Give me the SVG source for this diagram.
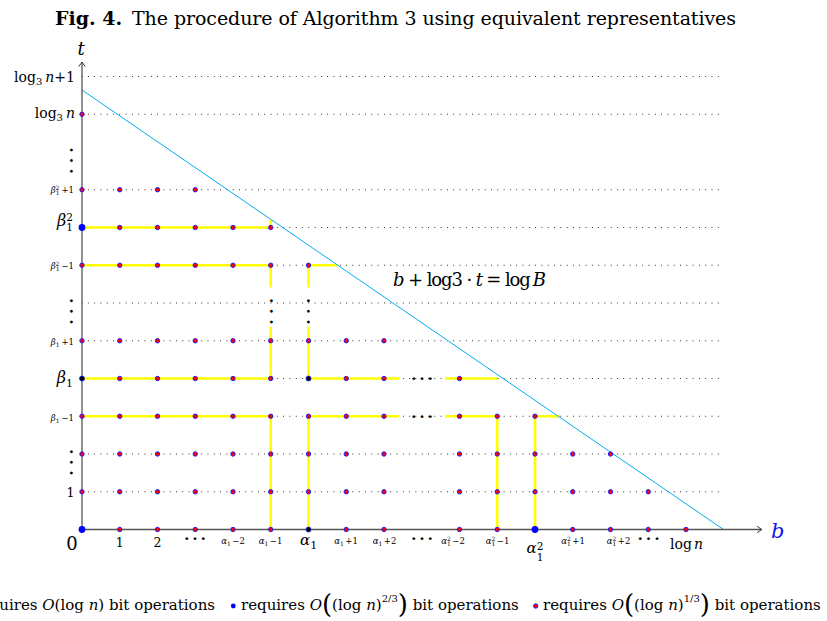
<svg xmlns="http://www.w3.org/2000/svg" xmlns:xlink="http://www.w3.org/1999/xlink" width="827" height="621" viewBox="0 0 827 621">
<style>
text{font-family:"DejaVu Serif","Liberation Serif",serif;fill:#000}
.i{font-style:italic}
.grid{stroke:#000;stroke-width:1;stroke-dasharray:0 6.3;stroke-linecap:round;fill:none}
.yel{stroke:#ffff00;stroke-width:2.6;fill:none}
.axis{stroke:#555;stroke-width:1.3;fill:none}
.cyan{stroke:#00aeef;stroke-width:1;fill:none}
.sd{fill:#ff0000;stroke:#2020ff;stroke-width:1}
.bd{fill:#0000ff}
.kd{fill:#000;stroke:#2020ff;stroke-width:0.8}
.el{font-family:"Liberation Serif",serif;font-size:24px;letter-spacing:2.3px}
.vd{font-family:"Liberation Serif",serif;font-size:24px;letter-spacing:4.6px}
.s{font-size:8.5px}
.lg{font-size:15px}
</style>
<defs>
<circle id="sd" r="2.2" class="sd"/>
<circle id="bd" r="3.4" class="bd"/>
<circle id="kd" r="2.5" class="kd"/>
<marker id="arr" markerWidth="10" markerHeight="10" refX="0" refY="0" viewBox="-6 -5 8 10" orient="auto" markerUnits="userSpaceOnUse">
<path d="M-4.5,-3.2 Q-1.2,-0.8 0,0 Q-1.2,0.8 -4.5,3.2" stroke="#333" stroke-width="1" fill="none"/>
</marker>
</defs>

<text x="55" y="25" font-size="19" font-weight="bold">Fig. 4.</text>
<text x="132" y="25" font-size="19" textLength="604" lengthAdjust="spacing">The procedure of Algorithm 3 using equivalent representatives</text>

<g id="connectors">
<g id="gridlines">
<path class="grid" d="M82,76.5H721M82,114.25H721M82,189.75H721M82,227.5H721M82,265.25H721M82,303H721M82,340.75H721M82,378.5H721M82,416.25H721M82,454H721M82,491.75H721"/>
</g>
<g id="yellow">
<path class="yel" d="M82,227.5H270.75M82,265.25H270.75M308.5,265.25H338M82,378.5H270.75M308.5,378.5H399.3M445,378.5H497M82,416.25H270.75M308.5,416.25H399.3M445,416.25H497.25M535,416.25H559.5"/>
<path class="yel" d="M270.75,219.5V227.5M270.75,265.25V287.5M270.75,326.5V378.5M270.75,416.25V529.5M308.5,265.25V287.5M308.5,326.5V378.5M308.5,416.25V529.5M497.25,416.25V529.5M535,416.25V529.5"/>
</g>
<path id="boundary" class="cyan" d="M82,90L723.5,529.5"/>
<path id="t-axis" class="axis" d="M82,529.5V62" marker-end="url(#arr)"/>
<path id="b-axis" class="axis" d="M82,529.5H761.7" marker-end="url(#arr)"/>
</g>

<g id="nodes">
<g id="n0-0"><use xlink:href="#bd" x="82" y="529.5"/></g>
<g id="n1-0"><use xlink:href="#sd" x="119.75" y="529.5"/></g>
<g id="n2-0"><use xlink:href="#sd" x="157.5" y="529.5"/></g>
<g id="n3-0"><use xlink:href="#sd" x="195.25" y="529.5"/></g>
<g id="n4-0"><use xlink:href="#sd" x="233" y="529.5"/></g>
<g id="n5-0"><use xlink:href="#sd" x="270.75" y="529.5"/></g>
<g id="n6-0"><use xlink:href="#kd" x="308.5" y="529.5"/></g>
<g id="n7-0"><use xlink:href="#sd" x="346.25" y="529.5"/></g>
<g id="n8-0"><use xlink:href="#sd" x="384" y="529.5"/></g>
<g id="n10-0"><use xlink:href="#sd" x="459.5" y="529.5"/></g>
<g id="n11-0"><use xlink:href="#sd" x="497.25" y="529.5"/></g>
<g id="n12-0"><use xlink:href="#bd" x="535" y="529.5"/></g>
<g id="n13-0"><use xlink:href="#sd" x="572.75" y="529.5"/></g>
<g id="n14-0"><use xlink:href="#sd" x="610.5" y="529.5"/></g>
<g id="n15-0"><use xlink:href="#sd" x="648.25" y="529.5"/></g>
<g id="n16-0"><use xlink:href="#sd" x="686" y="529.5"/></g>

<g id="n0-1"><use xlink:href="#sd" x="82" y="491.75"/></g>
<g id="n1-1"><use xlink:href="#sd" x="119.75" y="491.75"/></g>
<g id="n2-1"><use xlink:href="#sd" x="157.5" y="491.75"/></g>
<g id="n3-1"><use xlink:href="#sd" x="195.25" y="491.75"/></g>
<g id="n4-1"><use xlink:href="#sd" x="233" y="491.75"/></g>
<g id="n5-1"><use xlink:href="#sd" x="270.75" y="491.75"/></g>
<g id="n6-1"><use xlink:href="#sd" x="308.5" y="491.75"/></g>
<g id="n7-1"><use xlink:href="#sd" x="346.25" y="491.75"/></g>
<g id="n8-1"><use xlink:href="#sd" x="384" y="491.75"/></g>
<g id="n10-1"><use xlink:href="#sd" x="459.5" y="491.75"/></g>
<g id="n11-1"><use xlink:href="#sd" x="497.25" y="491.75"/></g>
<g id="n12-1"><use xlink:href="#sd" x="535" y="491.75"/></g>
<g id="n13-1"><use xlink:href="#sd" x="572.75" y="491.75"/></g>
<g id="n14-1"><use xlink:href="#sd" x="610.5" y="491.75"/></g>
<g id="n15-1"><use xlink:href="#sd" x="648.25" y="491.75"/></g>

<g id="n0-2"><use xlink:href="#sd" x="82" y="454"/></g>
<g id="n1-2"><use xlink:href="#sd" x="119.75" y="454"/></g>
<g id="n2-2"><use xlink:href="#sd" x="157.5" y="454"/></g>
<g id="n3-2"><use xlink:href="#sd" x="195.25" y="454"/></g>
<g id="n4-2"><use xlink:href="#sd" x="233" y="454"/></g>
<g id="n5-2"><use xlink:href="#sd" x="270.75" y="454"/></g>
<g id="n6-2"><use xlink:href="#sd" x="308.5" y="454"/></g>
<g id="n7-2"><use xlink:href="#sd" x="346.25" y="454"/></g>
<g id="n8-2"><use xlink:href="#sd" x="384" y="454"/></g>
<g id="n10-2"><use xlink:href="#sd" x="459.5" y="454"/></g>
<g id="n11-2"><use xlink:href="#sd" x="497.25" y="454"/></g>
<g id="n12-2"><use xlink:href="#sd" x="535" y="454"/></g>
<g id="n13-2"><use xlink:href="#sd" x="572.75" y="454"/></g>
<g id="n14-2"><use xlink:href="#sd" x="610.5" y="454"/></g>

<g id="n0-3"><use xlink:href="#sd" x="82" y="416.25"/></g>
<g id="n1-3"><use xlink:href="#sd" x="119.75" y="416.25"/></g>
<g id="n2-3"><use xlink:href="#sd" x="157.5" y="416.25"/></g>
<g id="n3-3"><use xlink:href="#sd" x="195.25" y="416.25"/></g>
<g id="n4-3"><use xlink:href="#sd" x="233" y="416.25"/></g>
<g id="n5-3"><use xlink:href="#sd" x="270.75" y="416.25"/></g>
<g id="n6-3"><use xlink:href="#sd" x="308.5" y="416.25"/></g>
<g id="n7-3"><use xlink:href="#sd" x="346.25" y="416.25"/></g>
<g id="n8-3"><use xlink:href="#sd" x="384" y="416.25"/></g>
<g id="n10-3"><use xlink:href="#sd" x="459.5" y="416.25"/></g>
<g id="n11-3"><use xlink:href="#sd" x="497.25" y="416.25"/></g>
<g id="n12-3"><use xlink:href="#sd" x="535" y="416.25"/></g>

<g id="n0-4"><use xlink:href="#kd" x="82" y="378.5"/></g>
<g id="n1-4"><use xlink:href="#sd" x="119.75" y="378.5"/></g>
<g id="n2-4"><use xlink:href="#sd" x="157.5" y="378.5"/></g>
<g id="n3-4"><use xlink:href="#sd" x="195.25" y="378.5"/></g>
<g id="n4-4"><use xlink:href="#sd" x="233" y="378.5"/></g>
<g id="n5-4"><use xlink:href="#sd" x="270.75" y="378.5"/></g>
<g id="n6-4"><use xlink:href="#kd" x="308.5" y="378.5"/></g>
<g id="n7-4"><use xlink:href="#sd" x="346.25" y="378.5"/></g>
<g id="n8-4"><use xlink:href="#sd" x="384" y="378.5"/></g>
<g id="n10-4"><use xlink:href="#sd" x="459.5" y="378.5"/></g>

<g id="n0-5"><use xlink:href="#sd" x="82" y="340.75"/></g>
<g id="n1-5"><use xlink:href="#sd" x="119.75" y="340.75"/></g>
<g id="n2-5"><use xlink:href="#sd" x="157.5" y="340.75"/></g>
<g id="n3-5"><use xlink:href="#sd" x="195.25" y="340.75"/></g>
<g id="n4-5"><use xlink:href="#sd" x="233" y="340.75"/></g>
<g id="n5-5"><use xlink:href="#sd" x="270.75" y="340.75"/></g>
<g id="n6-5"><use xlink:href="#sd" x="308.5" y="340.75"/></g>
<g id="n7-5"><use xlink:href="#sd" x="346.25" y="340.75"/></g>
<g id="n8-5"><use xlink:href="#sd" x="384" y="340.75"/></g>

<g id="n0-7"><use xlink:href="#sd" x="82" y="265.25"/></g>
<g id="n1-7"><use xlink:href="#sd" x="119.75" y="265.25"/></g>
<g id="n2-7"><use xlink:href="#sd" x="157.5" y="265.25"/></g>
<g id="n3-7"><use xlink:href="#sd" x="195.25" y="265.25"/></g>
<g id="n4-7"><use xlink:href="#sd" x="233" y="265.25"/></g>
<g id="n5-7"><use xlink:href="#sd" x="270.75" y="265.25"/></g>
<g id="n6-7"><use xlink:href="#sd" x="308.5" y="265.25"/></g>

<g id="n0-8"><use xlink:href="#bd" x="82" y="227.5"/></g>
<g id="n1-8"><use xlink:href="#sd" x="119.75" y="227.5"/></g>
<g id="n2-8"><use xlink:href="#sd" x="157.5" y="227.5"/></g>
<g id="n3-8"><use xlink:href="#sd" x="195.25" y="227.5"/></g>
<g id="n4-8"><use xlink:href="#sd" x="233" y="227.5"/></g>
<g id="n5-8"><use xlink:href="#sd" x="270.75" y="227.5"/></g>

<g id="n0-9"><use xlink:href="#sd" x="82" y="189.75"/></g>
<g id="n1-9"><use xlink:href="#sd" x="119.75" y="189.75"/></g>
<g id="n2-9"><use xlink:href="#sd" x="157.5" y="189.75"/></g>
<g id="n3-9"><use xlink:href="#sd" x="195.25" y="189.75"/></g>

<g id="n0-11"><use xlink:href="#sd" x="82" y="114.25"/></g>
</g>

<g id="ellipses">
<text class="el" x="410.7" y="379.8">...</text>
<text class="el" x="410.7" y="417.5">...</text>
<text class="vd" x="269.5" y="297.7" transform="rotate(90 269.5 297.7)">...</text>
<text class="vd" x="307.2" y="297.7" transform="rotate(90 307.2 297.7)">...</text>
<text class="vd" x="69.8" y="147" transform="rotate(90 69.8 147)">...</text>
<text class="vd" x="69.8" y="297.7" transform="rotate(90 69.8 297.7)">...</text>
<text class="vd" x="69.8" y="448.7" transform="rotate(90 69.8 448.7)">...</text>
</g>

<g id="t-labels">
<text x="81" y="55" font-size="18" class="i" text-anchor="middle">t</text>
<text x="75" y="81.5" font-size="14" text-anchor="end">log<tspan font-size="10" dy="3">3</tspan><tspan dy="-3" dx="3" class="i">n</tspan>+1</text>
<text x="75" y="117.5" font-size="14" text-anchor="end">log<tspan font-size="10" dy="3">3</tspan><tspan dy="-3" dx="3" class="i">n</tspan></text>
<text x="74" y="193" class="s" text-anchor="end"><tspan class="i">β</tspan><tspan font-size="6" dy="-3.5">2</tspan><tspan font-size="6" dx="-3.8" dy="5.5">1</tspan><tspan dy="-2" dx="2">+1</tspan></text>
<text x="73" y="226" font-size="16" text-anchor="end"><tspan class="i">β</tspan><tspan font-size="10.5" dy="-5">2</tspan><tspan font-size="10.5" dx="-6.7" dy="10">1</tspan></text>
<text x="74" y="269" class="s" text-anchor="end"><tspan class="i">β</tspan><tspan font-size="6" dy="-3.5">2</tspan><tspan font-size="6" dx="-3.8" dy="5.5">1</tspan><tspan dy="-2" dx="2">−1</tspan></text>
<text x="74" y="344.5" class="s" text-anchor="end"><tspan class="i">β</tspan><tspan font-size="6" dy="2">1</tspan><tspan dy="-2" dx="2">+1</tspan></text>
<text x="73" y="383" font-size="16" text-anchor="end"><tspan class="i">β</tspan><tspan font-size="11" dy="3.5">1</tspan></text>
<text x="74" y="420.5" class="s" text-anchor="end"><tspan class="i">β</tspan><tspan font-size="6" dy="2">1</tspan><tspan dy="-2" dx="2">−1</tspan></text>
<text x="70.5" y="497" font-size="12.5" text-anchor="middle">1</text>
</g>

<g id="b-labels">
<text x="72" y="550" font-size="18" text-anchor="middle">0</text>
<text x="119.75" y="547" font-size="12.5" text-anchor="middle">1</text>
<text x="157.5" y="547" font-size="12.5" text-anchor="middle">2</text>
<text class="el" x="183.7" y="540.3">...</text>
<text x="233" y="543.5" class="s" text-anchor="middle"><tspan class="i">α</tspan><tspan font-size="6" dy="2">1</tspan><tspan dy="-2" dx="1.5">−2</tspan></text>
<text x="270.5" y="543.5" class="s" text-anchor="middle"><tspan class="i">α</tspan><tspan font-size="6" dy="2">1</tspan><tspan dy="-2" dx="1.5">−1</tspan></text>
<text x="300" y="545" font-size="15"><tspan class="i">α</tspan><tspan font-size="11" dy="4">1</tspan></text>
<text x="346" y="543.5" class="s" text-anchor="middle"><tspan class="i">α</tspan><tspan font-size="6" dy="2">1</tspan><tspan dy="-2" dx="1.5">+1</tspan></text>
<text x="384.5" y="543.5" class="s" text-anchor="middle"><tspan class="i">α</tspan><tspan font-size="6" dy="2">1</tspan><tspan dy="-2" dx="1.5">+2</tspan></text>
<text class="el" x="410.7" y="540.3">...</text>
<text x="453" y="544" class="s" text-anchor="middle"><tspan class="i">α</tspan><tspan font-size="6" dy="-3.5">2</tspan><tspan font-size="6" dx="-3.8" dy="5.5">1</tspan><tspan dy="-2" dx="1.5">−2</tspan></text>
<text x="497.5" y="544" class="s" text-anchor="middle"><tspan class="i">α</tspan><tspan font-size="6" dy="-3.5">2</tspan><tspan font-size="6" dx="-3.8" dy="5.5">1</tspan><tspan dy="-2" dx="1.5">−1</tspan></text>
<text x="526.5" y="553" font-size="15"><tspan class="i">α</tspan><tspan font-size="10.5" dy="-3">2</tspan><tspan font-size="10.5" dx="-6.7" dy="11">1</tspan></text>
<text x="573" y="544" class="s" text-anchor="middle"><tspan class="i">α</tspan><tspan font-size="6" dy="-3.5">2</tspan><tspan font-size="6" dx="-3.8" dy="5.5">1</tspan><tspan dy="-2" dx="1.5">+1</tspan></text>
<text x="618.5" y="544" class="s" text-anchor="middle"><tspan class="i">α</tspan><tspan font-size="6" dy="-3.5">2</tspan><tspan font-size="6" dx="-3.8" dy="5.5">1</tspan><tspan dy="-2" dx="1.5">+2</tspan></text>
<text class="el" x="637.3" y="539.6">...</text>
<text x="670" y="548.5" font-size="14">log<tspan class="i" dx="2">n</tspan></text>
<text x="771" y="538" font-size="21" class="i" style="fill:#1414f0">b</text>
</g>

<text id="equation" x="393" y="286" font-size="18" textLength="153" lengthAdjust="spacing"><tspan class="i">b</tspan> + log3 · <tspan class="i">t</tspan> = log<tspan class="i" dx="3">B</tspan></text>

<g id="legend">
<text x="215" y="610" class="lg" text-anchor="end">requires <tspan class="i">O</tspan>(log <tspan class="i">n</tspan>) bit operations</text>
<circle cx="233.3" cy="606" r="2.4" class="bd"/>
<text x="241" y="610" class="lg">requires <tspan class="i">O</tspan><tspan font-size="26" dy="3">(</tspan><tspan dy="-3">(log </tspan><tspan class="i">n</tspan>)<tspan font-size="10" dy="-8">2/3</tspan><tspan font-size="26" dy="11">)</tspan><tspan dy="-3"> bit operations</tspan></text>
<circle cx="535.7" cy="606" r="2.2" class="sd"/>
<text x="543" y="610" class="lg">requires <tspan class="i">O</tspan><tspan font-size="26" dy="3">(</tspan><tspan dy="-3">(log </tspan><tspan class="i">n</tspan>)<tspan font-size="10" dy="-8">1/3</tspan><tspan font-size="26" dy="11">)</tspan><tspan dy="-3"> bit operations</tspan></text>
</g>
</svg>
